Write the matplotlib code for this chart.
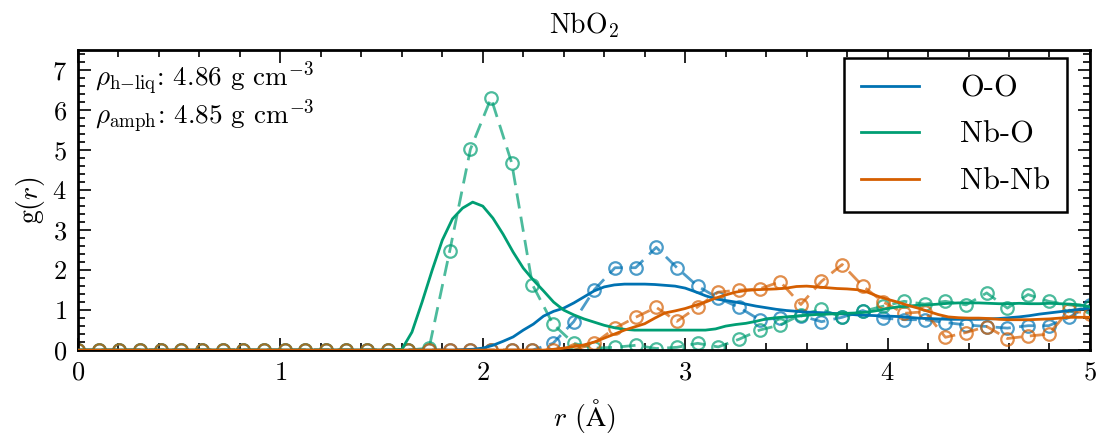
import numpy as np
import matplotlib
matplotlib.use("Agg")
import matplotlib.pyplot as plt
from matplotlib.ticker import MultipleLocator

plt.rcParams["font.family"] = "serif"
plt.rcParams["font.serif"] = ["cmr10", "DejaVu Serif"]
plt.rcParams["mathtext.fontset"] = "cm"
plt.rcParams["axes.formatter.use_mathtext"] = True
plt.rcParams["axes.unicode_minus"] = False

# ---- data -------------------------------------------------------------
# hot-liquid g(r), sampled every 0.05 Å from 0 to 5 Å
r_liq = np.arange(101) * 0.05

g_OO_liq = [0]*38 + [
    0.01, 0.02, 0.05, 0.12, 0.22, 0.33, 0.50, 0.65, 0.85, 0.97,
    1.05, 1.18, 1.33, 1.48, 1.58, 1.63, 1.65, 1.65, 1.65, 1.64,
    1.62, 1.60, 1.55, 1.46, 1.36, 1.28, 1.24, 1.20, 1.15, 1.10,
    1.06, 1.02, 0.99, 0.97, 0.95, 0.94, 0.93, 0.91, 0.90, 0.88,
    0.87, 0.86, 0.85, 0.84, 0.82, 0.80, 0.79, 0.78, 0.77, 0.77,
    0.77, 0.77, 0.78, 0.79, 0.81, 0.83, 0.86, 0.90, 0.93, 0.96,
    0.99, 1.02, 1.05]

g_NbO_liq = [0]*32 + [
    0.02, 0.45, 1.20, 2.00, 2.75, 3.28, 3.55, 3.70, 3.60, 3.30,
    2.90, 2.45, 2.05, 1.75, 1.48, 1.20, 1.00, 0.88, 0.78, 0.70,
    0.62, 0.56, 0.52, 0.50, 0.50, 0.50, 0.50, 0.50, 0.50, 0.50,
    0.50, 0.53, 0.60, 0.64, 0.67, 0.72, 0.78, 0.81, 0.83, 0.85,
    0.87, 0.89, 0.90, 0.91, 0.92, 0.93, 0.95, 0.99, 1.04, 1.08,
    1.10, 1.12, 1.13, 1.15, 1.17, 1.18, 1.18, 1.18, 1.17, 1.16,
    1.16, 1.17, 1.16, 1.16, 1.17, 1.16, 1.15, 1.13, 1.08]

g_NbNb_liq = [0]*47 + [
    0.02, 0.05, 0.09, 0.13, 0.20, 0.30, 0.40, 0.50, 0.58, 0.66,
    0.80, 0.93, 0.98, 1.04, 1.12, 1.20, 1.30, 1.38, 1.45, 1.49,
    1.51, 1.52, 1.53, 1.55, 1.59, 1.60, 1.58, 1.56, 1.54, 1.53,
    1.51, 1.45, 1.35, 1.27, 1.20, 1.12, 1.05, 0.97, 0.89, 0.83,
    0.81, 0.80, 0.80, 0.79, 0.77, 0.76, 0.76, 0.76, 0.77, 0.78,
    0.80, 0.82, 0.82, 0.82]

# amorphous g(r), 50 bins spanning 0 to 5 Å
r_amph = np.linspace(0, 5, 50)

g_OO_amph = [0]*23 + [
    0.17, 0.71, 1.51, 2.06, 2.06, 2.57, 2.06, 1.60, 1.30, 1.07,
    0.76, 0.80, 0.86, 0.71, 0.82, 0.99, 0.80, 0.76, 0.76, 0.69,
    0.63, 0.59, 0.55, 0.61, 0.61, 0.82, 1.13]

g_NbO_amph = [0]*17 + [
    0.05, 2.48, 5.02, 6.30, 4.68, 1.64, 0.65, 0.17, 0.05, 0.07,
    0.12, 0.04, 0.07, 0.17, 0.08, 0.27, 0.50, 0.63, 0.88, 1.02,
    0.82, 0.97, 1.10, 1.22, 1.15, 1.22, 1.13, 1.43, 1.05, 1.39,
    1.22, 1.13, 1.08]

g_NbNb_amph = [0]*25 + [
    0.17, 0.55, 0.82, 1.07, 0.72, 1.08, 1.45, 1.50, 1.53, 1.71,
    1.14, 1.72, 2.14, 1.60, 1.20, 0.92, 0.96, 0.32, 0.44, 0.59,
    0.29, 0.35, 0.40, 1.00, 0.90]

pairs = ["O-O", "Nb-O", "Nb-Nb"]
colors = ["#0072B2", "#009E73", "#D55E00"]
liq_curves = [g_OO_liq, g_NbO_liq, g_NbNb_liq]
amph_curves = [g_OO_amph, g_NbO_amph, g_NbNb_amph]

# ---- figure -----------------------------------------------------------
fig = plt.figure(figsize=(10.97, 4.36), dpi=100)
ax = fig.add_axes([0.0711, 0.197, 0.9225, 0.688])

for label, col, gl, ga in zip(pairs, colors, liq_curves, amph_curves):
    ax.plot(r_amph, ga, color=col, lw=2, ls="--", dashes=(5.5, 3),
            marker="o", ms=9, mfc="none", mew=1.6, alpha=0.7, zorder=2)
    ax.plot(r_liq, gl, color=col, lw=2, label=label, zorder=3)

ax.set_xlim(0, 5)
ax.set_ylim(0, 7.5)
ax.xaxis.set_major_locator(MultipleLocator(1))
ax.xaxis.set_minor_locator(MultipleLocator(0.2))
ax.yaxis.set_major_locator(MultipleLocator(1))
ax.yaxis.set_minor_locator(MultipleLocator(0.2))
ax.tick_params(which="both", direction="in", top=True, right=True,
               labelsize=19, width=1.2)
ax.tick_params(which="major", length=9, pad=8)
ax.tick_params(which="minor", length=5)
for sp in ax.spines.values():
    sp.set_linewidth(2)

ax.set_xlabel(r"$r$ ($\mathrm{\AA}$)", fontsize=20, labelpad=9)
ax.set_ylabel(r"g($r$)", fontsize=20, labelpad=4)
ax.set_title(r"NbO$_2$", fontsize=20, pad=12)

ax.text(0.017, 0.97, r"$\rho_{\mathrm{h{-}liq}}$: 4.86 g cm$^{-3}$",
        transform=ax.transAxes, fontsize=19.5, va="top", ha="left")
ax.text(0.017, 0.845, r"$\rho_{\mathrm{amph}}$: 4.85 g cm$^{-3}$",
        transform=ax.transAxes, fontsize=19.5, va="top", ha="left")

leg = ax.legend(loc="upper right", bbox_to_anchor=(0.977, 0.973),
                fontsize=22, frameon=True, fancybox=False,
                handlelength=1.9, borderpad=0.55, labelspacing=0.62,
                handletextpad=1.35, borderaxespad=0.0)
leg.get_frame().set_edgecolor("black")
leg.get_frame().set_linewidth(1.8)
leg.get_frame().set_alpha(1)

fig.savefig("out.png", dpi=100)
